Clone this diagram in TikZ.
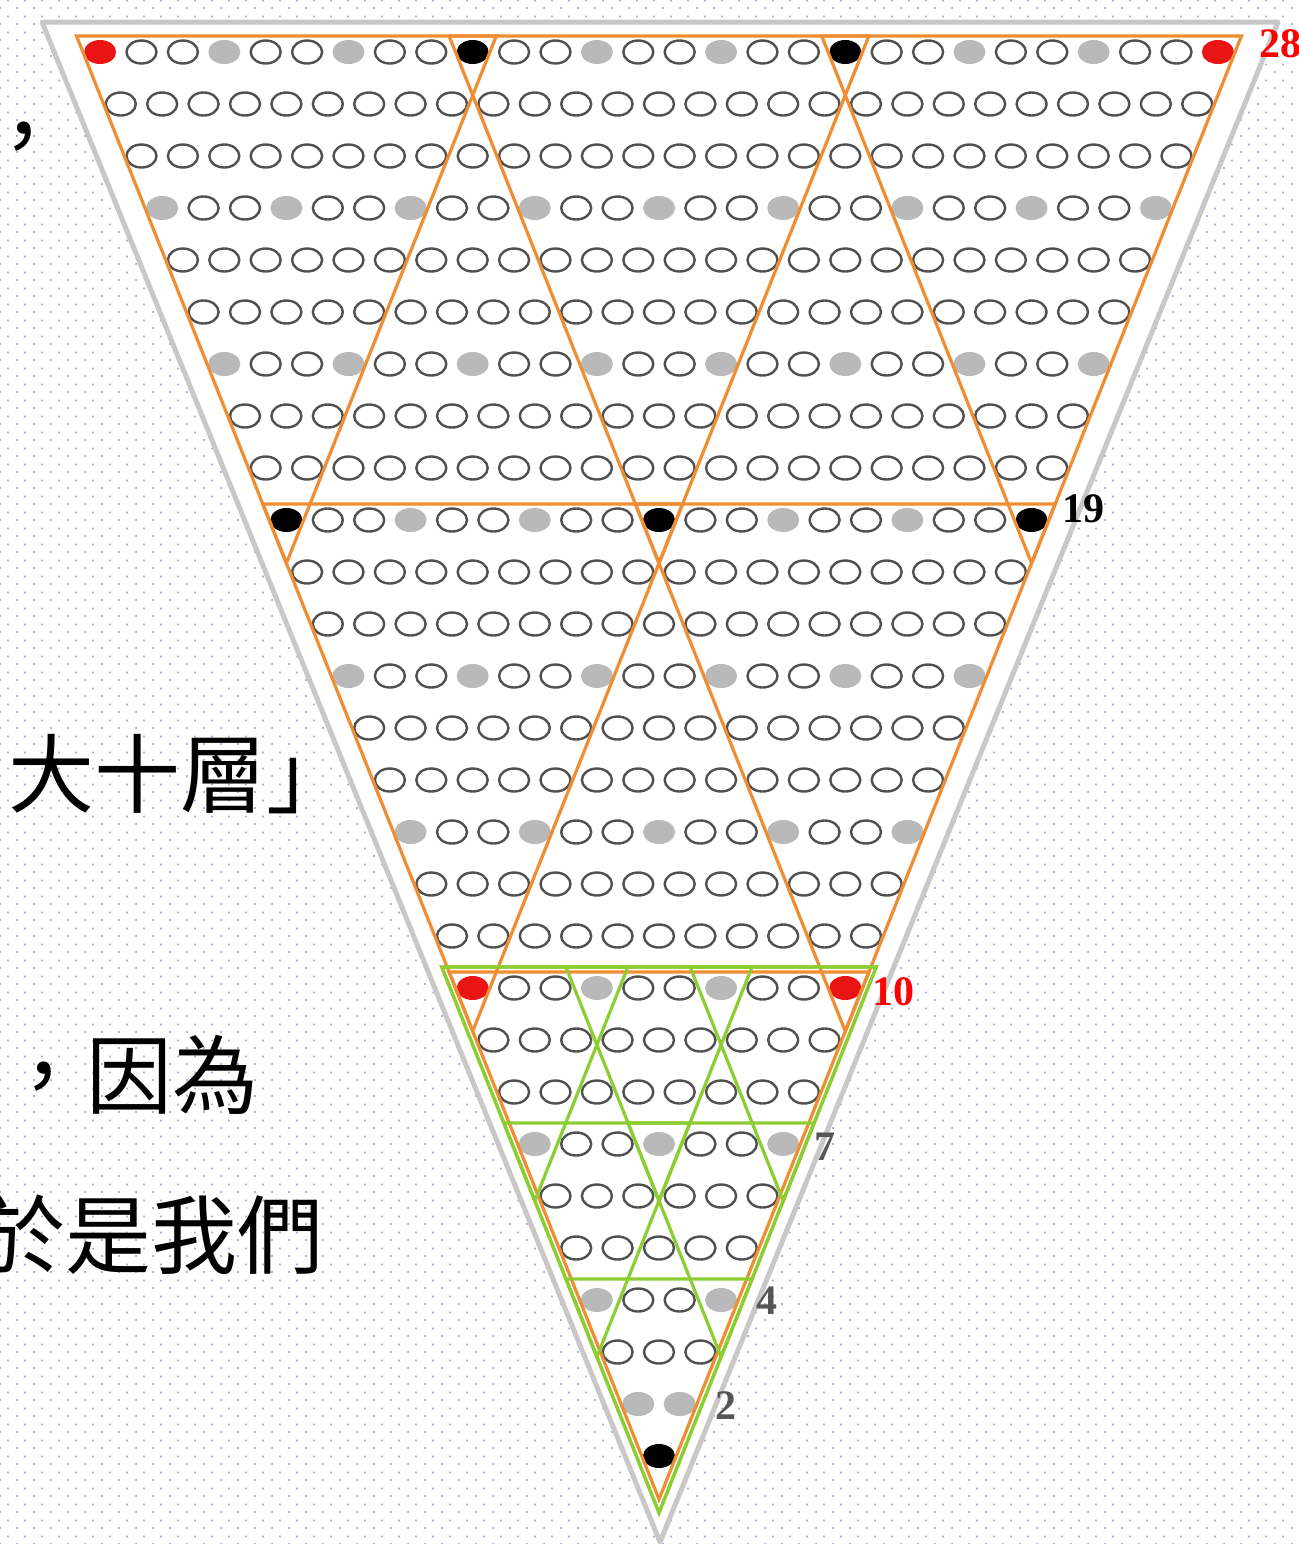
\documentclass[tikz,border=0pt]{standalone}
\usepackage{fontspec}
\setmainfont{Liberation Serif}
\newfontfamily\cjk{Noto Sans CJK TC}
\usetikzlibrary{patterns}
\definecolor{orangeln}{RGB}{240,140,50}
\definecolor{greenln}{RGB}{140,205,50}
\definecolor{outergray}{RGB}{200,200,200}
\definecolor{dotc}{RGB}{175,175,215}
\definecolor{ringc}{RGB}{80,80,80}
\definecolor{grayfill}{RGB}{185,185,185}
\definecolor{reddot}{RGB}{235,20,20}
\definecolor{labgray}{RGB}{85,85,85}
\pgfdeclarepatternformonly{bgdots}{\pgfqpoint{0pt}{0pt}}{\pgfqpoint{8.5pt}{8pt}}{\pgfqpoint{8.5pt}{8pt}}{%
  \pgfpathrectangle{\pgfqpoint{0pt}{0pt}}{\pgfqpoint{1pt}{1pt}}%
  \pgfpathrectangle{\pgfqpoint{4.25pt}{4pt}}{\pgfqpoint{1pt}{1pt}}%
  \pgfusepath{fill}}
\newcommand{\cxval}{659}
\newcommand{\hval}{41.4}
% offset downward triangle: #1 top row, #2 top-left index, #3 side, #4 offset, #5 style
\newcommand{\offtri}[5]{%
  \pgfmathsetmacro{\trXa}{\cxval + (#2 - (30-#1)/2)*\hval - 1.474*#4}%
  \pgfmathsetmacro{\trXb}{\cxval + (#2+#3-1 - (30-#1)/2)*\hval + 1.474*#4}%
  \pgfmathsetmacro{\trYa}{52 + (#1-1)*52 - #4}%
  \pgfmathsetmacro{\trXc}{\cxval + (#2 - (30-(#1+#3-1))/2)*\hval}%
  \pgfmathsetmacro{\trYc}{52 + (#1+#3-2)*52 + 2.704*#4}%
  \draw[#5] (\trXa,\trYa) -- (\trXb,\trYa) -- (\trXc,\trYc) -- cycle;%
}
\begin{document}
\begin{tikzpicture}[x=0.5pt,y=-0.5pt,
  cjktext/.style={font=\cjk\fontsize{43}{43}\selectfont, inner sep=0pt, anchor=base west},
  numlab/.style={font=\bfseries\fontsize{21}{21}\selectfont, inner sep=0pt, anchor=base west},
  oline/.style={draw=orangeln, line width=1.6pt, line join=miter},
  gline/.style={draw=greenln, line width=1.6pt, line join=miter},
  ring/.style={draw=ringc, line width=1.2pt},
]
\useasboundingbox (0,0) rectangle (1299,1544);
\clip (0,0) rectangle (1299,1544);
\fill[white] (0,0) rectangle (1299,1544);
\fill[pattern=bgdots, pattern color=dotc] (0,0) rectangle (1299,1544);

% side texts
\node[cjktext] (t1) at (-20,167) {，};
\node[cjktext] (t2) at (8,806) {大十層」};
\node[cjktext] (t3) at (0,1107) {，因為};
\node[cjktext] (t4) at (-21,1267) {於是我們};

% outer gray triangle
\filldraw[draw=outergray, fill=white, line width=2.5pt, line join=round] (42,22) -- (1278,22) -- (660,1542) -- cycle;

% circles
\foreach \r in {1,...,28} {
  \pgfmathtruncatemacro{\nn}{29-\r}
  \pgfmathsetmacro{\yy}{52+(\r-1)*52}
  \foreach \k in {1,...,\nn} {
    \pgfmathsetmacro{\xx}{\cxval + (\k - (30-\r)/2)*\hval}
    \pgfmathtruncatemacro{\ctyp}{((\r==1)&&((\k==1)||(\k==28))) || ((\r==19)&&((\k==1)||(\k==10))) ? 1 : (((\r==1)&&((\k==10)||(\k==19))) || ((\r==10)&&(mod(\k-1,9)==0)) || (\r==28) ? 2 : ((((mod(\r-1,3)==0)&&(mod(\k-1,3)==0)) || (\r==27)) ? 3 : 0))}
    \ifcase\ctyp
      \draw[ring] (\xx,\yy) ellipse [x radius=15, y radius=11.5];
    \or
      \fill[reddot] (\xx,\yy) ellipse [x radius=16, y radius=12];
    \or
      \fill[black] (\xx,\yy) ellipse [x radius=16, y radius=12];
    \or
      \fill[grayfill] (\xx,\yy) ellipse [x radius=16, y radius=12];
    \fi
  }
}

% orange triangles (side 10)
\offtri{1}{1}{10}{16}{oline}
\offtri{1}{10}{10}{16}{oline}
\offtri{1}{19}{10}{16}{oline}
\offtri{10}{1}{10}{16}{oline}
\offtri{10}{10}{10}{16}{oline}
\offtri{19}{1}{10}{16}{oline}

% green triangles (side 4)
\offtri{19}{1}{10}{21}{gline}
\offtri{19}{1}{4}{21}{gline}
\offtri{19}{4}{4}{21}{gline}
\offtri{19}{7}{4}{21}{gline}
\offtri{22}{1}{4}{21}{gline}
\offtri{22}{4}{4}{21}{gline}
\offtri{25}{1}{4}{21}{gline}

% labels
\node[numlab, text=red] (n28) at (1259,57) {28};
\node[numlab, text=black] (n19) at (1062,522) {19};
\node[numlab, text=red] (n10) at (872,1005) {10};
\node[numlab, text=labgray] (n7) at (814,1160) {7};
\node[numlab, text=labgray] (n4) at (756,1314) {4};
\node[numlab, text=labgray] (n2) at (715,1419) {2};
\end{tikzpicture}
\end{document}
